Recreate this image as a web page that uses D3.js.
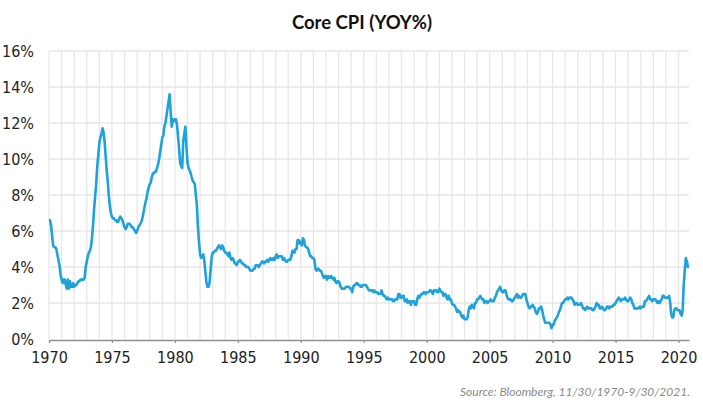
<!DOCTYPE html>
<html>
<head>
<meta charset="utf-8">
<script src="https://cdn.jsdelivr.net/npm/d3@7"></script>
<style>
  html, body { margin: 0; padding: 0; background: #fff; }
  svg { display: block; }
</style>
</head>
<body>
<svg id="chart" width="703" height="410"></svg>
<script>
// Core CPI YoY %, monthly, starting Nov 1970
const startMonth = "1970-11";
const cpi1970s = [
  6.6, 6.6,
  6.3, 5.7, 5.2, 5.1, 5.1, 5.0, 4.7, 4.4, 4.1, 3.6, 3.3, 3.1,
  3.3, 3.3, 3.0, 2.8, 3.3, 2.8, 3.2, 2.9, 2.9, 3.1, 2.9, 3.0,
  3.0, 3.1, 3.2, 3.2, 3.3, 3.3, 3.3, 3.3, 3.4, 4.0, 4.3, 4.6,
  4.8, 4.9, 5.1, 5.6, 6.3, 7.2, 7.9, 8.6, 9.6, 10.2, 10.9, 11.2,
  11.4, 11.7, 11.5, 11.0, 10.2, 9.4, 8.8, 8.0, 7.4, 7.0, 6.8, 6.7,
  6.7, 6.6, 6.6, 6.5, 6.5, 6.7, 6.8, 6.7, 6.6, 6.4, 6.2, 6.1,
  6.2, 6.4, 6.4, 6.4, 6.3, 6.2, 6.2, 6.1, 6.0, 5.9, 6.0, 6.2,
  6.3, 6.4, 6.5, 6.7, 7.0, 7.3, 7.6, 7.8, 8.2, 8.4, 8.6, 8.7,
  9.0, 9.2, 9.2, 9.3, 9.3, 9.5, 9.7, 10.0, 10.4, 10.8, 11.2, 11.3
];
const cpi1980s = [
  11.8, 12.0, 12.4, 12.8, 13.2, 13.6, 12.6, 11.8, 12.2, 12.1, 12.2, 12.2,
  11.9, 11.2, 10.6, 9.8, 9.6, 9.5, 11.0, 11.4, 11.8, 10.7, 9.8, 9.5,
  9.4, 9.2, 9.0, 8.8, 8.7, 8.6, 8.0, 7.4, 6.2, 5.4, 4.7, 4.5,
  4.6, 4.7, 4.4, 3.8, 3.2, 2.9, 2.9, 3.1, 3.8, 4.5, 4.8, 4.8,
  4.9, 4.9, 5.0, 5.1, 5.2, 5.1, 5.0, 5.2, 5.1, 4.9, 4.8, 4.8,
  4.7, 4.6, 4.8, 4.5, 4.4, 4.5, 4.4, 4.2, 4.2, 4.1, 4.3, 4.3,
  4.4, 4.3, 4.2, 4.2, 4.1, 4.1, 4.0, 4.0, 4.0, 3.9, 3.8, 3.8,
  3.8, 3.9, 3.9, 4.1, 4.1, 4.1, 4.0, 4.1, 4.2, 4.3, 4.3, 4.2,
  4.3, 4.3, 4.4, 4.3, 4.4, 4.5, 4.4, 4.4, 4.5, 4.4, 4.6, 4.7,
  4.5, 4.6, 4.6, 4.6, 4.6, 4.4, 4.5, 4.4, 4.3, 4.3, 4.4, 4.4
];
const cpi1990s = [
  4.4, 4.6, 4.9, 4.9, 4.8, 5.0, 5.0, 5.5, 5.5, 5.3, 5.4, 5.2,
  5.6, 5.5, 5.2, 5.1, 5.1, 5.0, 4.8, 4.6, 4.6, 4.5, 4.5, 4.4,
  3.9, 3.8, 3.9, 3.9, 3.8, 3.8, 3.7, 3.5, 3.4, 3.5, 3.5, 3.3,
  3.5, 3.4, 3.4, 3.5, 3.4, 3.3, 3.4, 3.2, 3.1, 3.2, 3.2, 3.1,
  2.9, 2.8, 2.8, 2.8, 2.8, 2.9, 2.9, 2.9, 2.9, 2.8, 2.8, 2.6,
  2.9, 3.0, 3.0, 3.1, 3.1, 3.0, 3.0, 2.9, 2.9, 3.0, 3.0, 3.0,
  3.0, 2.9, 2.8, 2.7, 2.7, 2.7, 2.7, 2.6, 2.7, 2.6, 2.6, 2.6,
  2.5, 2.5, 2.5, 2.7, 2.5, 2.4, 2.4, 2.3, 2.2, 2.3, 2.2, 2.2,
  2.2, 2.2, 2.1, 2.1, 2.2, 2.2, 2.2, 2.5, 2.5, 2.3, 2.3, 2.4,
  2.4, 2.1, 2.1, 2.2, 2.0, 2.1, 2.1, 1.9, 2.1, 2.1, 2.1, 1.9
];
const cpi2000s = [
  1.9, 2.2, 2.4, 2.3, 2.4, 2.5, 2.5, 2.6, 2.6, 2.5, 2.6, 2.6,
  2.6, 2.7, 2.7, 2.6, 2.5, 2.7, 2.7, 2.7, 2.6, 2.6, 2.8, 2.7,
  2.6, 2.6, 2.4, 2.5, 2.5, 2.3, 2.2, 2.4, 2.2, 2.2, 2.0, 1.9,
  1.9, 1.8, 1.7, 1.5, 1.6, 1.5, 1.5, 1.3, 1.2, 1.3, 1.1, 1.1,
  1.1, 1.2, 1.6, 1.8, 1.7, 1.9, 1.8, 1.7, 2.0, 2.0, 2.2, 2.2,
  2.3, 2.4, 2.3, 2.2, 2.2, 2.0, 2.1, 2.1, 2.0, 2.1, 2.1, 2.2,
  2.1, 2.1, 2.1, 2.3, 2.4, 2.6, 2.7, 2.8, 2.9, 2.7, 2.6, 2.6,
  2.7, 2.7, 2.5, 2.3, 2.2, 2.2, 2.2, 2.1, 2.1, 2.2, 2.3, 2.4,
  2.5, 2.3, 2.4, 2.3, 2.3, 2.4, 2.5, 2.5, 2.5, 2.2, 2.0, 1.8,
  1.7, 1.8, 1.8, 1.9, 1.8, 1.7, 1.5, 1.4, 1.5, 1.7, 1.7, 1.8
];
const cpi2010s = [
  1.6, 1.3, 1.1, 0.9, 0.9, 0.9, 0.9, 0.9, 0.8, 0.6, 0.8, 0.8,
  1.0, 1.1, 1.2, 1.3, 1.5, 1.6, 1.8, 2.0, 2.0, 2.1, 2.2, 2.2,
  2.3, 2.2, 2.3, 2.3, 2.3, 2.2, 2.1, 1.9, 2.0, 2.0, 1.9, 1.9,
  1.9, 2.0, 1.9, 1.7, 1.7, 1.6, 1.7, 1.8, 1.7, 1.7, 1.7, 1.7,
  1.6, 1.6, 1.7, 1.8, 2.0, 1.9, 1.9, 1.7, 1.7, 1.8, 1.7, 1.6,
  1.6, 1.7, 1.8, 1.8, 1.7, 1.8, 1.8, 1.8, 1.9, 1.9, 2.0, 2.1,
  2.2, 2.3, 2.2, 2.1, 2.2, 2.2, 2.2, 2.3, 2.2, 2.1, 2.1, 2.2,
  2.3, 2.2, 2.0, 1.9, 1.7, 1.7, 1.7, 1.7, 1.7, 1.8, 1.7, 1.8,
  1.8, 1.8, 2.1, 2.1, 2.2, 2.3, 2.4, 2.2, 2.2, 2.1, 2.2, 2.2,
  2.2, 2.1, 2.0, 2.1, 2.0, 2.1, 2.2, 2.4, 2.4, 2.3, 2.3, 2.3
];
const cpi2020s = [
  2.3, 2.4, 2.1, 1.4, 1.2, 1.2, 1.6, 1.7, 1.7, 1.6, 1.6, 1.6,
  1.4, 1.3, 1.6, 3.0, 3.8, 4.5, 4.3, 4.0, 4.0
];
const xTickLabels = ["1970","1975","1980","1985","1990","1995","2000","2005","2010","2015","2020"];
const yTickValues = [0, 2, 4, 6, 8, 10, 12, 14, 16];
const titleText = "Core CPI (YOY%)";
const sourceText = "Source: Bloomberg, 11/30/1970-9/30/2021.";

const values = [].concat(cpi1970s, cpi1980s, cpi1990s, cpi2000s, cpi2010s, cpi2020s);
const parseMonth = d3.timeParse("%Y-%m");
const start = parseMonth(startMonth);
const data = values.map((v, i) => ({ date: d3.timeMonth.offset(start, i), value: v }));

const svg = d3.select("#chart");
const x = d3.scaleTime()
  .domain([data[0].date, data[data.length - 1].date])
  .range([49, 689]);
const y = d3.scaleLinear().domain([0, 16]).range([339, 51]);

// yearly vertical grid (anchored to the series start month)
const yearLines = d3.range(0, 51).map(i => d3.timeMonth.offset(start, 12 * i));
svg.append("g").selectAll("line").data(yearLines).join("line")
  .attr("x1", d => x(d)).attr("x2", d => x(d))
  .attr("y1", y(16)).attr("y2", y(0))
  .attr("stroke", "#e7e7e7").attr("stroke-width", 1.3);

// horizontal grid
svg.append("g").selectAll("line").data(yTickValues.filter(v => v > 0)).join("line")
  .attr("x1", 49).attr("x2", 689)
  .attr("y1", d => y(d)).attr("y2", d => y(d))
  .attr("stroke", "#e7e7e7").attr("stroke-width", 1.3);

const axisFont = "'Liberation Sans Narrow', 'DejaVu Sans Condensed', 'Roboto', sans-serif";

// x axis
const xTicks = xTickLabels.map((lab, i) => d3.timeMonth.offset(start, 60 * i));
const xAxis = d3.axisBottom(x)
  .tickValues(xTicks)
  .tickSize(3)
  .tickSizeOuter(0)
  .tickPadding(9)
  .tickFormat((d, i) => xTickLabels[i]);
const gx = svg.append("g").attr("transform", "translate(0,340)").call(xAxis);
gx.select(".domain").attr("stroke", "#8f8f8f").attr("stroke-width", 1.5);
gx.selectAll(".tick line").attr("stroke", "#8f8f8f").attr("stroke-width", 1.2);
gx.selectAll(".tick text")
  .attr("fill", "#222")
  .style("font-family", axisFont)
  .style("font-size", "16px");

// y axis
const yAxis = d3.axisLeft(y)
  .tickValues(yTickValues)
  .tickSize(0)
  .tickPadding(15)
  .tickFormat(d => d + "%");
const gy = svg.append("g").attr("transform", "translate(49,0)").call(yAxis);
gy.select(".domain").remove();
gy.selectAll(".tick text")
  .attr("fill", "#222")
  .style("font-family", axisFont)
  .style("font-size", "16px");

// line
const line = d3.line().x(d => x(d.date)).y(d => y(d.value));
svg.append("path").datum(data)
  .attr("d", line)
  .attr("fill", "none")
  .attr("stroke", "#1ea2dc")
  .attr("stroke-width", 2.6)
  .attr("stroke-linejoin", "round");

// title
svg.append("text")
  .attr("x", 362).attr("y", 29)
  .attr("text-anchor", "middle")
  .style("font-family", "Lato, 'Open Sans', sans-serif")
  .style("font-weight", "bold")
  .style("font-size", "18.5px")
  .attr("fill", "#111")
  .text(titleText);

// source
svg.append("text")
  .attr("x", 690).attr("y", 396)
  .attr("text-anchor", "end")
  .style("font-family", "Lato, 'Open Sans', sans-serif")
  .style("font-style", "italic")
  .style("font-size", "12px")
  .attr("fill", "#8a8a8a")
  .text(sourceText);
</script>
</body>
</html>
